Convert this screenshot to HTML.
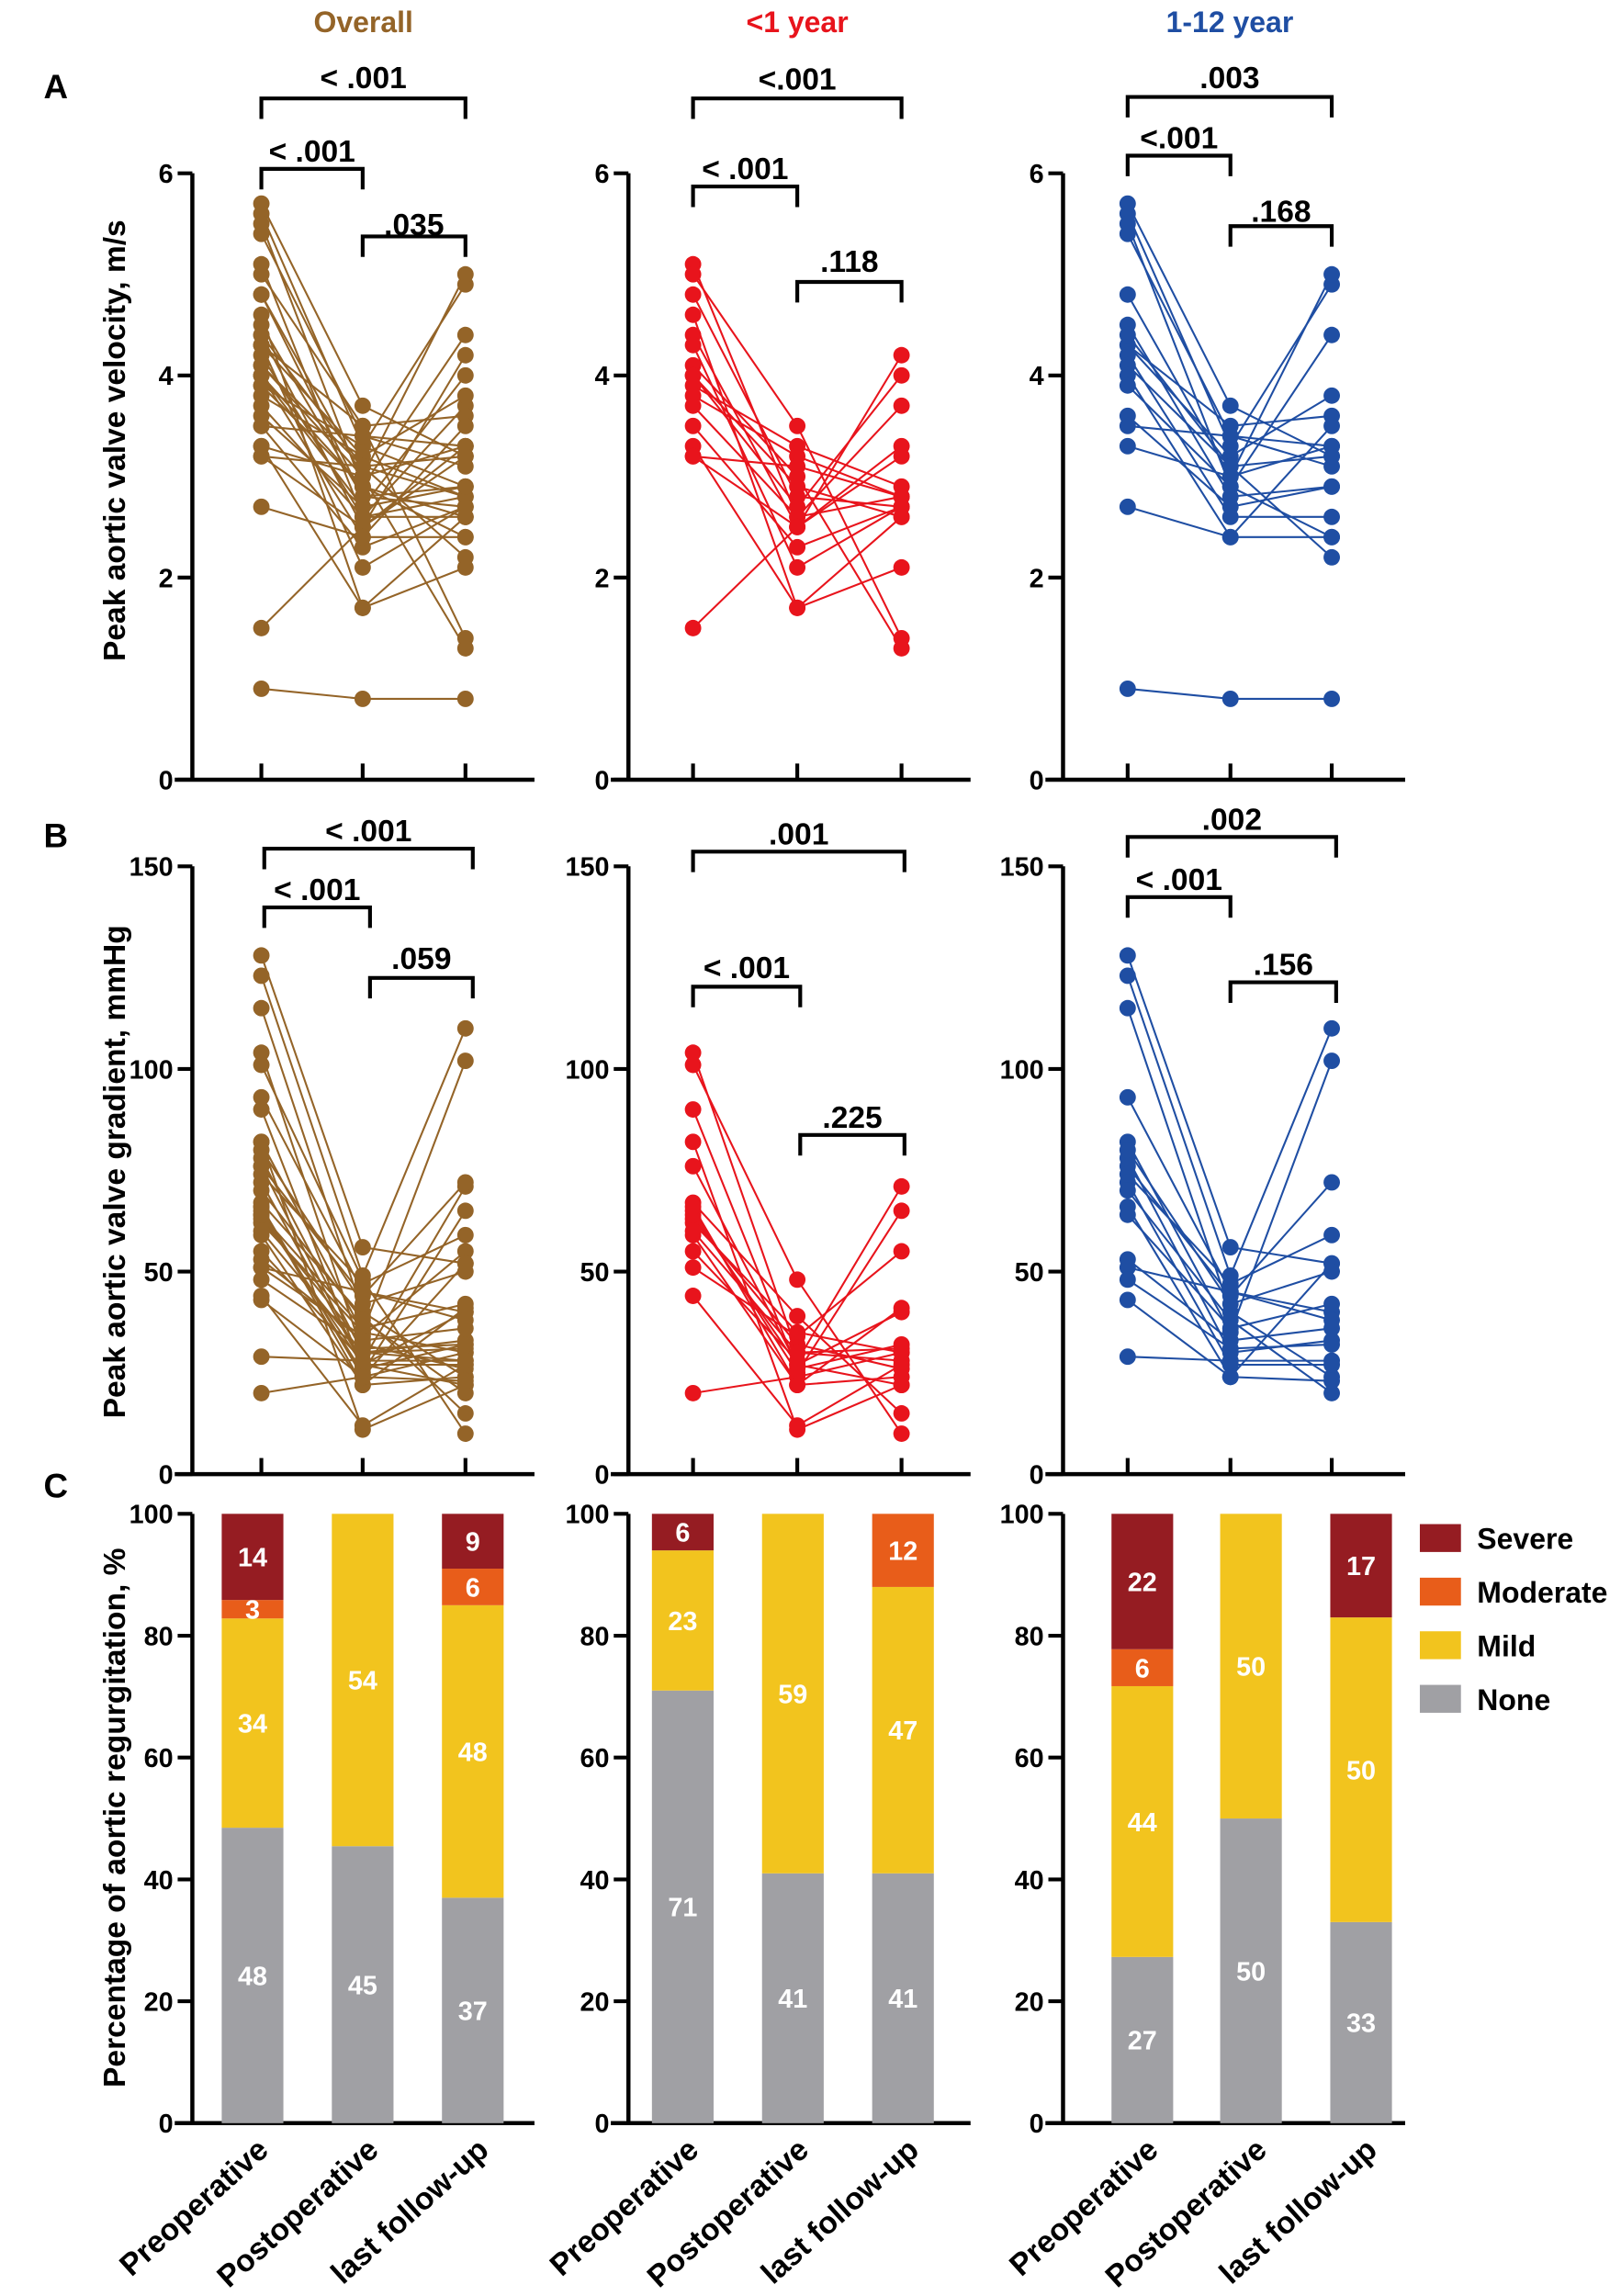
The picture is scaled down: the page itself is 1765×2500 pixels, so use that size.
<!DOCTYPE html>
<html><head><meta charset="utf-8"><style>
html,body{margin:0;padding:0;background:#fff;}
svg{display:block;}
text{font-family:"Liberation Sans",Arial,sans-serif;font-weight:bold;}
</style></head><body>
<svg id="fig" width="1765" height="2500" viewBox="0 0 1104 1563.7" xmlns="http://www.w3.org/2000/svg"></svg>
<script>
// ---- data ----
const categories = ["Preoperative","Postoperative","last follow-up"];
const infVelPre  = [5.1,5.0,4.8,4.6,4.4,4.1,4.0,4.0,3.9,3.8,3.7,3.5,3.3,3.2,3.2,1.5,4.3];
const infVelPost = [2.6,3.5,2.8,1.7,2.5,3.0,2.7,2.9,3.3,3.2,2.6,2.3,1.7,2.5,3.1,2.5,2.1];
const infVelLast = [2.8,1.4,2.7,2.1,3.2,1.3,4.0,2.6,2.9,2.8,3.7,2.7,2.6,3.3,2.8,4.2,2.7];
const chVelPre   = [5.7,5.6,5.5,5.4,4.8,4.5,4.3,4.3,4.2,4.1,4.0,3.9,3.6,3.5,3.3,2.7,0.9,4.4];
const chVelPost  = [3.7,3.3,2.9,3.4,3.0,2.8,3.2,3.5,2.6,3.1,2.4,2.9,2.7,3.4,3.0,2.4,0.8,3.1];
const chVelLast  = [3.2,4.9,2.4,3.3,5.0,2.9,3.8,3.6,2.6,2.2,3.5,4.4,2.9,3.1,3.3,2.4,0.8,3.2];
const infGrPre   = [104,101,90,82,76,67,65,63,62,59,55,51,44,20,64,60,66];
const infGrPost  = [30,48,26,11,27,39,25,32,35,22,28,34,12,24,27,30,22];
const infGrLast  = [28,10,32,22,40,15,65,26,30,41,71,55,27,30,22,31,24];
const chGrPre    = [128,123,115,93,82,78,76,74,72,70,66,64,53,51,48,43,29,80];
const chGrPost   = [56,49,40,45,35,30,44,47,27,38,24,36,33,45,31,24,28,42];
const chGrLast   = [52,110,24,40,102,33,72,59,27,20,52,42,36,38,32,23,28,50];
const velTicks = [0,2,4,6];
const grTicks = [0,50,100,150];
const pctTicks = [0,20,40,60,80,100];
const severityNames = ["None","Mild","Moderate","Severe"];
const overallAR = [[48,34,3,14],[45,54,0,0],[37,48,6,9]];
const infantAR  = [[71,23,0,6],[41,59,0,0],[41,47,12,0]];
const childAR   = [[27,44,6,22],[50,50,0,0],[33,50,0,17]];

const NS="http://www.w3.org/2000/svg";
const svg=document.getElementById('fig');
function mk(tag,attrs,parent){const e=document.createElementNS(NS,tag);for(const k in attrs)e.setAttribute(k,attrs[k]);(parent||svg).appendChild(e);return e;}
function txt(s,x,y,size,fill,anchor,parent){const t=mk('text',{x:x,y:y,'font-size':size,fill:fill||'#000','text-anchor':anchor||'middle'},parent);t.textContent=s;return t;}

const cols=[
 {ax:131,cx:[178,247,317],color:'#946428',title:'Overall',tcol:'#946428'},
 {ax:428,cx:[472,543,614],color:'#e8141c',title:'<1 year',tcol:'#e8141c'},
 {ax:724,cx:[768,838,907],color:'#1f4ea3',title:'1-12 year',tcol:'#1f4ea3'}
];
const rows={A:{y0:531,yTop:118,max:6,ticks:velTicks},B:{y0:1004,yTop:590,max:150,ticks:grTicks},C:{y0:1446,yTop:1031,max:100,ticks:pctTicks}};

cols.forEach(c=>{const t=txt(c.title,(c.cx[0]+c.cx[2])/2,22,20,c.tcol);

});
[['A',67],['B',577],['C',1020]].forEach(p=>{const t=txt(p[0],38,p[1],23,'#000');

});

function axes(c,r,showCatTicks){
  const g=mk('g',{});
  
  
  mk('line',{x1:c.ax,y1:r.yTop,x2:c.ax,y2:r.y0,stroke:'#000','stroke-width':2.8},g);
  mk('line',{x1:c.ax-12,y1:r.y0,x2:c.ax+233,y2:r.y0,stroke:'#000','stroke-width':2.8},g);
  r.ticks.forEach(v=>{const y=r.y0-(r.y0-r.yTop)*v/r.max;
    mk('line',{x1:c.ax-10,y1:y,x2:c.ax,y2:y,stroke:'#000','stroke-width':2.6},g);
    const t=txt(String(v),c.ax-13,y+6.5,18,'#000','end',g);
    
    });
  if(showCatTicks)c.cx.forEach(x=>mk('line',{x1:x,y1:r.y0-11,x2:x,y2:r.y0,stroke:'#000','stroke-width':2.6},g));
}
function paired(c,r,pre,post,last){
  const ys=v=>r.y0-(r.y0-r.yTop)*v/r.max;
  const g=mk('g',{});
  
  
  for(let i=0;i<pre.length;i++){
    const pl=mk('polyline',{points:`${c.cx[0]},${ys(pre[i])} ${c.cx[1]},${ys(post[i])} ${c.cx[2]},${ys(last[i])}`,fill:'none',stroke:c.color,'stroke-width':1.3},g);
    
    
  }
  [pre,post,last].forEach((arr,k)=>arr.forEach(v=>{
    const d=mk('circle',{cx:c.cx[k],cy:ys(v),r:5.6,fill:c.color},g);
    
    }));
}
function bracket(x1,x2,y,label,ty){
  const g=mk('g',{});
  
  
  mk('polyline',{points:`${x1},${y+14} ${x1},${y} ${x2},${y} ${x2},${y+14}`,fill:'none',stroke:'#000','stroke-width':2.6},g);
  txt(label,(x1+x2)/2,ty,21,'#000','middle',g);
}
// Row A
axes(cols[0],rows.A,true);axes(cols[1],rows.A,true);axes(cols[2],rows.A,true);
paired(cols[0],rows.A,infVelPre.concat(chVelPre),infVelPost.concat(chVelPost),infVelLast.concat(chVelLast));
paired(cols[1],rows.A,infVelPre,infVelPost,infVelLast);
paired(cols[2],rows.A,chVelPre,chVelPost,chVelLast);
bracket(178,317,67,'< .001',60);bracket(178,247,115,'< .001',110);bracket(247,317,161,'.035',160);
bracket(472,614,67,'<.001',61);bracket(472,543,127,'< .001',122);bracket(543,614,192,'.118',185);
bracket(768,907,66,'.003',60);bracket(768,838,106,'<.001',101);bracket(838,907,154,'.168',151);
// Row B
axes(cols[0],rows.B,true);axes(cols[1],rows.B,true);axes(cols[2],rows.B,true);
paired(cols[0],rows.B,infGrPre.concat(chGrPre),infGrPost.concat(chGrPost),infGrLast.concat(chGrLast));
paired(cols[1],rows.B,infGrPre,infGrPost,infGrLast);
paired(cols[2],rows.B,chGrPre,chGrPost,chGrLast);
bracket(180,322,578,'< .001',573);bracket(180,252,618,'< .001',613);bracket(252,322,666,'.059',660);
bracket(472,616,580,'.001',575);bracket(472,545,672,'< .001',666);bracket(545,616,773,'.225',768);
bracket(768,910,570,'.002',565);bracket(768,838,611,'< .001',606);bracket(838,910,669,'.156',664);

// Row C bars
const segColors=['#a0a0a4','#f2c41e','#e85d1a','#951c22'];
const barCx=[[172,247,322],[465,540,615],[778,852,927]];
[overallAR,infantAR,childAR].forEach((data,ci)=>{
  const c=cols[ci],r=rows.C;
  axes(c,r,false);
  data.forEach((vals,bi)=>{
    const tot=vals.reduce((a,b)=>a+b,0);let acc=0;
    vals.forEach((v,si)=>{
      if(v<=0)return;
      const h=(r.y0-r.yTop)*v/tot;const y=r.y0-(r.y0-r.yTop)*(acc+v)/tot;
      const rc=mk('rect',{x:barCx[ci][bi]-21,y:y,width:42,height:h,fill:segColors[si]});
      
      
      const t=txt(String(v),barCx[ci][bi],y+h/2+6.5,18,'#fff');
      
      
      acc+=v;});
  });
  c.cx.forEach((x,k)=>{const t=txt(categories[k],barCx[ci][k]+12,1466,21,'#000','end');
    t.setAttribute('transform',`rotate(-42 ${barCx[ci][k]+12} 1466)`);
    
    });
});
// legend
severityNames.slice().reverse().forEach((n,i)=>{
  const y=1048+i*36.5;
  const r=mk('rect',{x:967,y:y-10,width:28,height:19,fill:segColors[3-i]});
  
  
  const t=txt(n,1006,y+7,20,'#000','start');
  
  
});
// y titles
[['Peak aortic valve velocity, m/s',300],['Peak aortic valve gradient, mmHg',798],['Percentage of  aortic regurgitation, %',1238]].forEach(a=>{
  const t=txt(a[0],85,a[1],21,'#000');
  t.setAttribute('transform',`rotate(-90 85 ${a[1]})`);
  t.setAttribute('xml:space','preserve');
  
  
});
</script>
</body></html>
